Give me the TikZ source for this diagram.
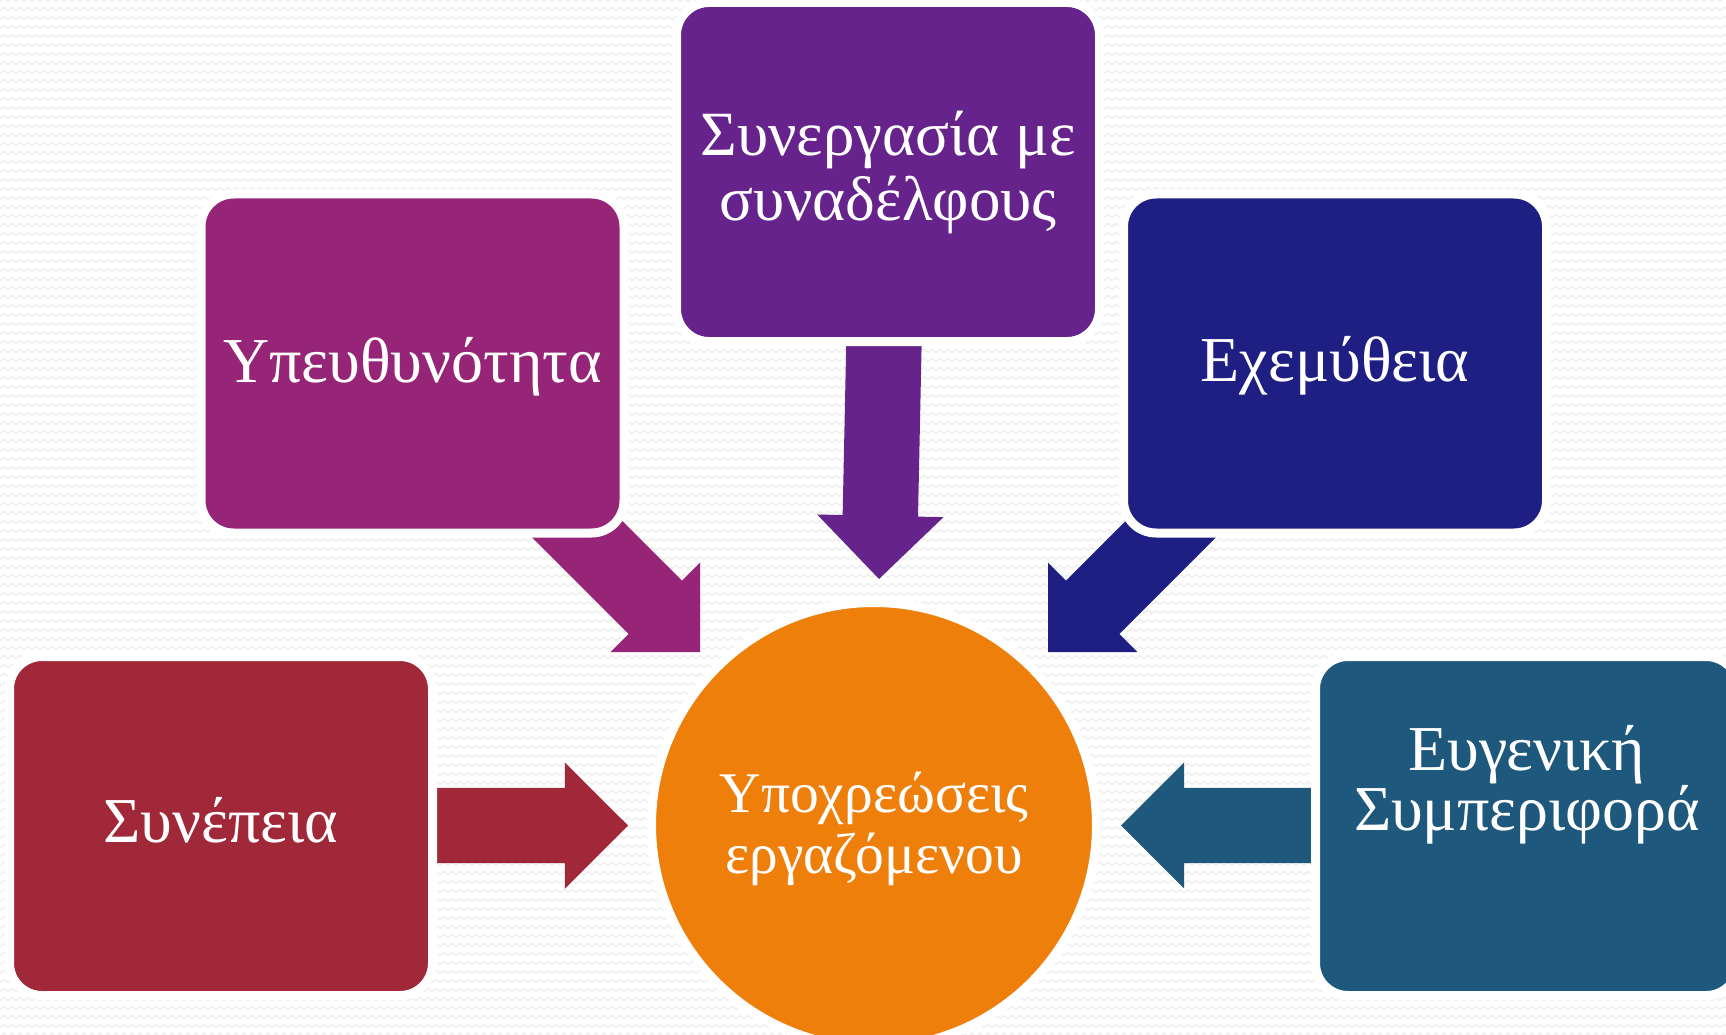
\documentclass[tikz,border=0pt]{standalone}
\usepackage{fontspec}
\setmainfont{Liberation Serif}
\usetikzlibrary{shapes.arrows,patterns.meta}
\definecolor{cRed}{HTML}{A02838}
\definecolor{cMag}{HTML}{962577}
\definecolor{cPur}{HTML}{66238C}
\definecolor{cNavy}{HTML}{1F1F83}
\definecolor{cTeal}{HTML}{1E587C}
\definecolor{cOrange}{HTML}{EF7F0B}
\definecolor{cWave}{HTML}{EEEEEE}
\tikzdeclarepattern{
  name=bgwaves,
  type=uncolored,
  bounding box={(0pt,-4.5pt) and (8pt,4.5pt)},
  tile size={(8pt,9pt)},
  code={
    \draw[line width=1.3pt] (0pt,-1.6pt) .. controls (2pt,-1.6pt) and (2pt,1.6pt) .. (4pt,1.6pt)
      .. controls (6pt,1.6pt) and (6pt,-1.6pt) .. (8pt,-1.6pt);
  }
}
\tikzset{
  card/.style={rectangle, rounded corners=32.5pt, draw=white, line width=9pt,
    minimum width=423pt, minimum height=339pt, inner sep=0pt},
  hub/.style={circle, draw=white, line width=9pt, fill=cOrange,
    minimum size=445pt, inner sep=0pt},
  blockarrow/.style={single arrow, inner xsep=0pt, inner ysep=37.5pt,
    single arrow head extend=25.5pt, single arrow tip angle=90,
    minimum height=250pt, outer sep=0pt, draw=none, anchor=tip},
  lbl/.style={text=white, font=\fontsize{64}{61}\selectfont, anchor=base,
    inner sep=0pt, align=center}
}
\begin{document}
\begin{tikzpicture}[x=1pt,y=-1pt]
\useasboundingbox (0,0) rectangle (1726,1035);
\clip (0,0) rectangle (1726,1035);
\fill[white] (0,0) rectangle (1726,1035);
\fill[pattern=bgwaves, pattern color=cWave] (0,0) rectangle (1726,1035);

% block arrows (placed by their tips; tails hide under the boxes)
\node[blockarrow, fill=cRed] (a1) at (628,825.5) {};
\node[blockarrow, fill=cTeal, rotate=180] (a5) at (1121,825.5) {};
\node[blockarrow, fill=cPur, rotate=-91.2] (a3) at (879,579) {};
\node[blockarrow, fill=cMag, rotate=-45] (a2) at (700,652) {};
\node[blockarrow, fill=cNavy, rotate=-135] (a4) at (1048,652) {};

% boxes
\node[card, fill=cRed]  (b1) at (221,826) {};
\node[card, fill=cMag]  (b2) at (412.5,363.5) {};
\node[card, fill=cPur]  (b3) at (888,172) {};
\node[card, fill=cNavy] (b4) at (1335,363.5) {};
\node[card, fill=cTeal] (b5) at (1527,826) {};
\node[hub] (hub) at (874,825) {};

% labels (multi-line: base = last line's baseline)
\node[lbl] (l1) at (221,842) {Συνέπεια};
\node[lbl] (l2) at (412.5,382) {Υπευθυνότητα};
\node[lbl, font=\fontsize{63}{65}\selectfont] (l3) at (888,220) {Συνεργασία με\\συναδέλφους};
\node[lbl] (l4) at (1335,381) {Εχεμύθεια};
\node[lbl, font=\fontsize{64}{60}\selectfont] (l5) at (1527,830) {Ευγενική\\Συμπεριφορά};
\node[lbl, font=\fontsize{57.5}{61}\selectfont] (l6) at (874,873) {Υποχρεώσεις\\εργαζόμενου};
\end{tikzpicture}
\end{document}
